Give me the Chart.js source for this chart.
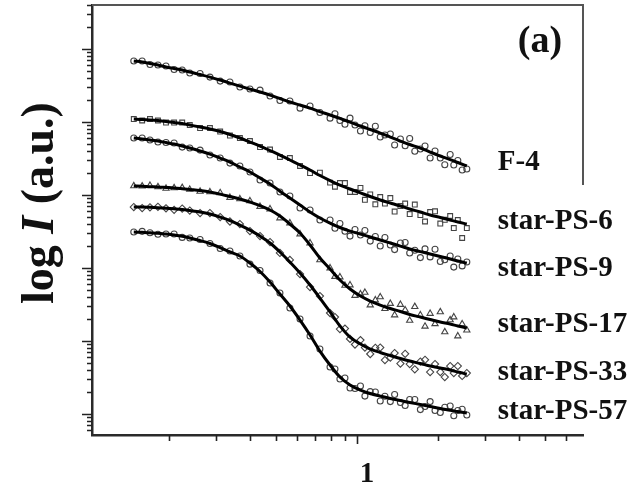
<!DOCTYPE html>
<html>
<head>
<meta charset="utf-8">
<script src="https://cdn.jsdelivr.net/npm/chart.js@4/dist/chart.umd.min.js"></script>
<style>
  html, body { margin: 0; padding: 0; background: #fff; }
  #c { display: block; }
</style>
</head>
<body>
<canvas id="c" width="638" height="483"></canvas>
<script>
// ---- data (q in nm^-1 style units, intensity in a.u.) ----
const seriesNames = ['F-4', 'star-PS-6', 'star-PS-9', 'star-PS-17', 'star-PS-33', 'star-PS-57'];

// q values of the measured points
const qData = [0.148,0.159,0.170,0.182,0.195,0.209,0.224,0.239,0.261,0.284,0.310,0.337,0.367,0.400,0.436,0.475,0.517,0.563,0.614,0.669,0.728,0.794,0.828,0.864,0.902,0.942,0.983,1.03,1.07,1.12,1.17,1.22,1.27,1.33,1.38,1.45,1.51,1.57,1.64,1.72,1.79,1.87,1.95,2.04,2.12,2.22,2.29,2.37,2.46,2.56];

// measured intensities
const dataF4 = [6.85e4,6.85e4,6.13e4,6.04e4,5.85e4,5.24e4,5.16e4,4.69e4,4.62e4,4.13e4,3.64e4,3.53e4,3.02e4,2.83e4,2.74e4,2.27e4,1.97e4,1.94e4,1.55e4,1.66e4,1.35e4,1.13e4,1.30e4,1.05e4,9.32e3,1.13e4,9.10e3,7.53e3,8.88e3,7.18e3,8.75e3,6.23e3,6.64e3,6.85e3,4.84e3,5.85e3,4.73e3,5.94e3,3.98e3,4.27e3,4.69e3,3.21e3,4.01e3,3.21e3,2.60e3,3.59e3,2.58e3,2.97e3,2.20e3,2.27e3];
const dataPS6 = [1.10e4,1.05e4,1.10e4,1.05e4,9.84e3,9.84e3,9.84e3,9.10e3,8.28e3,8.28e3,7.41e3,6.53e3,6.04e3,5.49e3,4.54e3,4.20e3,3.32e3,3.21e3,2.50e3,2.00e3,2.03e3,1.48e3,1.30e3,1.46e3,1.46e3,1.10e3,1.10e3,1.25e3,861,1.02e3,747,939,765,910,594,707,765,549,741,532,434,585,599,407,458,516,353,454,258,353];
const dataPS9 = [6.04e3,6.04e3,5.67e3,5.32e3,5.24e3,5.16e3,4.54e3,4.40e3,4.13e3,3.53e3,3.21e3,2.74e3,2.50e3,2.07e3,1.61e3,1.46e3,1.10e3,969,664,623,454,454,350,407,319,274,337,283,326,234,270,200,262,207,179,220,224,161,175,139,183,142,181,123,130,146,103,133,107,121];
const dataPS17 = [1.33e3,1.32e3,1.35e3,1.29e3,1.23e3,1.25e3,1.26e3,1.19e3,1.12e3,1.10e3,1.07e3,924,882,828,696,643,484,413,292,220,129,100,76.5,75.3,57.6,58.5,42.0,44.0,46.2,31.1,36.4,40.1,27.7,32.6,22.7,31.6,26.6,19.1,29.5,22.7,15.9,23.8,17.2,25.0,13.3,19.4,21.3,11.7,17.1,14.1];
const dataPS33 = [685,664,679,691,659,627,653,613,567,567,499,434,401,321,274,227,161,129,82.8,54.9,41.3,24.2,21.3,14.6,14.8,10.7,8.96,10.3,8.15,6.64,8.08,8.15,5.49,5.94,6.85,4.92,6.69,4.84,4.10,5.24,5.53,3.76,4.84,3.76,3.21,4.54,3.64,4.54,3.32,3.64];
const dataPS57 = [311,318,304,290,292,292,263,258,246,217,185,171,146,113,92.4,62.3,45.4,28.3,20.0,11.7,7.77,4.40,4.13,3.02,3.11,2.27,2.24,2.42,1.76,2.03,2.00,1.51,1.75,1.48,1.85,1.44,1.31,1.58,1.58,1.15,1.27,1.48,1.12,1.05,1.24,1.29,0.946,1.12,1.16,0.969];

// q values of the fitted curves
const qFit = [0.148,0.159,0.170,0.182,0.195,0.209,0.224,0.239,0.261,0.284,0.310,0.337,0.367,0.400,0.436,0.475,0.517,0.563,0.614,0.669,0.728,0.794,0.864,0.942,1.03,1.12,1.22,1.33,1.45,1.57,1.72,1.87,2.04,2.22,2.37,2.56];
const fitF4 = [6.85e4,6.64e4,6.33e4,6.04e4,5.67e4,5.41e4,5.16e4,4.84e4,4.47e4,4.13e4,3.76e4,3.42e4,3.11e4,2.83e4,2.58e4,2.34e4,2.10e4,1.88e4,1.71e4,1.55e4,1.39e4,1.25e4,1.12e4,1.00e4,8.82e3,7.90e3,7.07e3,6.23e3,5.49e3,4.92e3,4.40e3,3.88e3,3.42e3,3.06e3,2.79e3,2.50e3];
const fitPS6 = [1.10e4,1.08e4,1.07e4,1.05e4,1.02e4,9.84e3,9.54e3,9.10e3,8.54e3,8.02e3,7.41e3,6.74e3,6.04e3,5.32e3,4.69e3,4.07e3,3.53e3,3.02e3,2.58e3,2.20e3,1.85e3,1.58e3,1.37e3,1.21e3,1.07e3,954,854,777,707,643,585,532,492,454,427,401];
const fitPS9 = [6.04e3,5.85e3,5.67e3,5.49e3,5.24e3,4.99e3,4.69e3,4.40e3,4.01e3,3.64e3,3.21e3,2.83e3,2.42e3,2.07e3,1.71e3,1.42e3,1.13e3,910,730,585,484,413,359,321,292,266,242,220,200,182,168,156,144,133,125,117];
const fitPS17 = [1.33e3,1.32e3,1.30e3,1.29e3,1.27e3,1.25e3,1.22e3,1.19e3,1.15e3,1.10e3,1.03e3,954,882,802,718,623,516,401,302,207,137,96.9,68.5,51.6,41.3,35.3,31.1,27.9,25.4,23.1,21.3,19.7,18.2,17.1,16.1,15.1];
const fitPS33 = [685,685,679,670,659,647,633,613,585,549,499,447,388,331,274,220,166,121,85.4,58.5,38.8,25.0,16.1,11.3,9.10,7.77,6.96,6.33,5.76,5.32,4.92,4.54,4.27,4.01,3.76,3.53];
const fitPS57 = [311,308,304,300,292,283,272,258,238,217,191,166,146,117,89.6,64.3,44.0,30.2,19.4,12.1,7.29,4.69,3.21,2.50,2.13,1.91,1.76,1.63,1.53,1.44,1.35,1.27,1.19,1.13,1.08,1.03];

// axis ticks
const xTickValues = [0.2,0.3,0.4,0.5,0.6,0.7,0.8,0.9,1,2,3,4,5,6];
const xTickLabels = {1: '1'};
const yDecades = [1,10,100,1000,10000,100000];

// ---- styling ----
const markerStyles = ['circle','rect','circle','triangle','rectRot','circle'];
const markerRadius = [3,3.4,3,3.6,3.6,3];
const labelDy = [-3,-2,5,-3,-2,-2];
const SERIF = '"Liberation Serif", "Times New Roman", serif';

const measured = [dataF4, dataPS6, dataPS9, dataPS17, dataPS33, dataPS57];
const fitted = [fitF4, fitPS6, fitPS9, fitPS17, fitPS33, fitPS57];

const datasets = [];
measured.forEach((arr, i) => {
  datasets.push({
    type: 'scatter',
    label: seriesNames[i] + ' data',
    data: qData.map((q, k) => ({x: q, y: arr[k]})),
    pointStyle: markerStyles[i],
    pointRadius: markerRadius[i],
    pointBorderWidth: 1.1,
    borderColor: '#444',
    backgroundColor: 'rgba(255,255,255,0)',
    showLine: false,
    order: 2
  });
});
fitted.forEach((arr, i) => {
  datasets.push({
    type: 'line',
    label: seriesNames[i] + ' fit',
    data: qFit.map((q, k) => ({x: q, y: arr[k]})),
    borderColor: '#000',
    borderWidth: 3,
    pointRadius: 0,
    cubicInterpolationMode: 'monotone',
    fill: false,
    order: 1
  });
});

const decorations = {
  id: 'decorations',
  afterDraw(chart) {
    const {ctx, chartArea: a, scales: {x, y}} = chart;
    ctx.save();
    // partial frame (top + upper part of right side)
    ctx.strokeStyle = '#555';
    ctx.lineWidth = 2;
    ctx.beginPath();
    ctx.moveTo(a.left, a.top);
    ctx.lineTo(a.right, a.top);
    ctx.lineTo(a.right, a.top + 180);
    ctx.stroke();

    // tick marks
    ctx.strokeStyle = '#222';
    ctx.lineWidth = 1.6;
    ctx.beginPath();
    y.ticks.forEach(t => {
      const py = Math.round(y.getPixelForValue(t.value)) + 0.5;
      const len = yDecades.includes(t.value) ? 10 : 5;
      ctx.moveTo(a.left - len, py);
      ctx.lineTo(a.left, py);
    });
    x.ticks.forEach(t => {
      const px = Math.round(x.getPixelForValue(t.value)) + 0.5;
      const len = t.value === 1 ? 9 : 6;
      ctx.moveTo(px, a.bottom);
      ctx.lineTo(px, a.bottom + len);
    });
    ctx.stroke();

    // series labels
    ctx.fillStyle = '#111';
    ctx.font = 'bold 29px ' + SERIF;
    ctx.textAlign = 'left';
    ctx.textBaseline = 'middle';
    fitted.forEach((arr, i) => {
      const lx = x.getPixelForValue(qFit[qFit.length - 1]) + 31;
      const ly = y.getPixelForValue(arr[arr.length - 1]) + labelDy[i];
      ctx.fillText(seriesNames[i], lx, ly);
    });

    // panel label
    ctx.font = 'bold 38px ' + SERIF;
    ctx.textAlign = 'center';
    ctx.textBaseline = 'alphabetic';
    ctx.fillText('(a)', a.right - 43, a.top + 47);

    // y axis title with italic I
    const parts = [
      {t: 'log ', f: 'bold 46px ' + SERIF},
      {t: 'I', f: 'italic bold 46px ' + SERIF},
      {t: ' (a.u.)', f: 'bold 46px ' + SERIF}
    ];
    let total = 0;
    parts.forEach(p => { ctx.font = p.f; p.w = ctx.measureText(p.t).width; total += p.w; });
    ctx.translate(41, a.top + 198);
    ctx.rotate(-Math.PI / 2);
    ctx.textAlign = 'left';
    ctx.textBaseline = 'middle';
    let cx = -total / 2;
    parts.forEach(p => { ctx.font = p.f; ctx.fillText(p.t, cx, 0); cx += p.w; });
    ctx.restore();
  }
};

new Chart(document.getElementById('c'), {
  type: 'scatter',
  data: { datasets },
  options: {
    responsive: false,
    devicePixelRatio: 1,
    animation: false,
    events: [],
    layout: { padding: { top: 5, right: 55, bottom: 0, left: 0 } },
    plugins: { legend: { display: false }, tooltip: { enabled: false } },
    scales: {
      x: {
        type: 'logarithmic',
        position: 'bottom',
        min: 0.1035,
        max: 6.92,
        afterBuildTicks: s => { s.ticks = xTickValues.map(v => ({value: v, major: v === 1})); },
        afterFit: s => { s.height = 48; },
        grid: { display: false },
        border: { display: true, color: '#2a2a2a', width: 2.5 },
        ticks: {
          autoSkip: false,
          maxRotation: 0,
          padding: 14,
          labelOffset: 10,
          color: '#111',
          font: { family: SERIF, weight: 'bold', size: 29 },
          callback: v => xTickLabels[v] || ''
        }
      },
      y: {
        type: 'logarithmic',
        position: 'left',
        min: 0.516,
        max: 4.0e5,
        afterBuildTicks: s => {
          const t = [];
          [0.1,1,10,100,1000,10000,100000].forEach(d => {
            for (let m = 1; m <= 9; m++) {
              const v = +(m * d).toPrecision(3);
              if (v >= 0.516 && v <= 4.0e5) t.push({value: v, major: m === 1});
            }
          });
          s.ticks = t;
        },
        afterFit: s => { s.width = 92; },
        grid: { display: false },
        border: { display: true, color: '#2a2a2a', width: 2.5 },
        ticks: { display: false }
      }
    }
  },
  plugins: [decorations]
});
</script>
</body>
</html>
